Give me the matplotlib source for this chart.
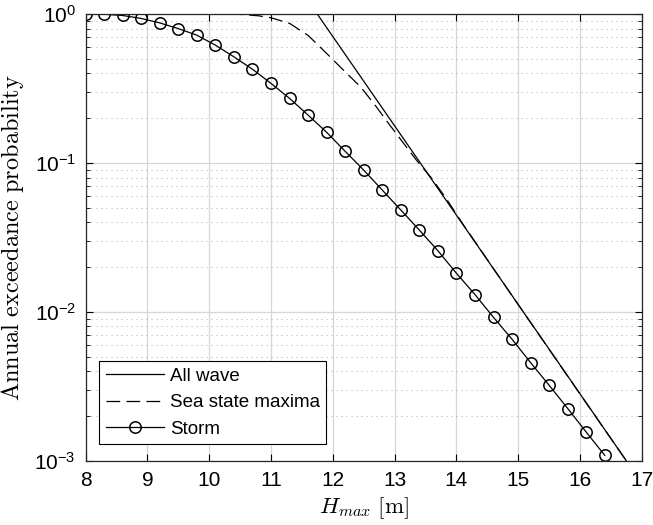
import numpy as np
import matplotlib
matplotlib.use('Agg')
import matplotlib.pyplot as plt
from matplotlib.ticker import LogLocator, NullFormatter

plt.rcParams['font.family'] = ['Liberation Sans', 'DejaVu Sans']
plt.rcParams['mathtext.fontset'] = 'custom'
plt.rcParams['mathtext.rm'] = 'Liberation Sans'
plt.rcParams['mathtext.it'] = 'Liberation Sans:italic'
plt.rcParams['mathtext.bf'] = 'Liberation Sans:bold'

# all-wave distribution (straight in log space)
all_wave_h = [11.75, 16.75]
all_wave_p = [1.0, 1e-3]

# sea state maxima, joins the all-wave line near 14 m
sea_h = [10.0, 10.5, 10.8, 11.0, 11.3, 11.6, 11.9, 12.2, 12.45, 12.7, 12.9,
         13.15, 13.35, 13.6, 13.85, 14.1, 15.0, 16.0, 16.75]
sea_p = [1.0, 0.997, 0.975, 0.946, 0.868, 0.72, 0.545, 0.41, 0.325, 0.24, 0.185,
         0.135, 0.105, 0.079, 0.0565, 0.0392, 0.0112, 0.00281, 1e-3]

# storm based estimate
storm_h = [8.0, 8.3, 8.6, 8.9, 9.2, 9.5, 9.8, 10.1, 10.4, 10.7, 11.0, 11.3, 11.6,
           11.9, 12.2, 12.5, 12.8, 13.1, 13.4, 13.7, 14.0, 14.3, 14.6, 14.9,
           15.2, 15.5, 15.8, 16.1, 16.4]
storm_p = [1.0, 0.999, 0.98, 0.936, 0.874, 0.80, 0.723, 0.62, 0.517, 0.427, 0.343,
           0.272, 0.21, 0.161, 0.12, 0.0897, 0.0659, 0.0484, 0.0355, 0.0258,
           0.0182, 0.0131, 0.0092, 0.00656, 0.00457, 0.00322, 0.00225,
           0.00156, 0.00109]

y_ticks = [1e-3, 1e-2, 1e-1, 1.0]
y_tick_labels = [r'$10^{-3}$', r'$10^{-2}$', r'$10^{-1}$', r'$10^{0}$']
x_ticks = [8, 9, 10, 11, 12, 13, 14, 15, 16, 17]

fig = plt.figure(figsize=(6.53, 5.25), dpi=100)
ax = fig.add_axes([0.131, 0.122, 0.852, 0.851])

ax.semilogy(all_wave_h, all_wave_p, '-', color='k', lw=0.9, label='All wave')
ax.semilogy(sea_h, sea_p, '--', color='k', lw=0.9, dashes=(11, 5),
            label='Sea state maxima')
ax.semilogy(storm_h, storm_p, '-o', color='k', lw=0.9, ms=8.2,
            mfc='none', mew=1.1, label='Storm')

ax.set_xlim(8, 17)
ax.set_ylim(1e-3, 1)
ax.set_xticks(x_ticks)
ax.set_yticks(y_ticks)
ax.set_yticklabels(y_tick_labels)
ax.yaxis.set_minor_locator(LogLocator(base=10, subs=np.arange(2, 10)))
ax.yaxis.set_minor_formatter(NullFormatter())

ax.grid(True, which='major', color='#d6d6d6', lw=0.9, ls='-')
ax.grid(True, which='minor', axis='y', color='#b8b8b8', lw=0.8, ls=(0, (1, 3.5)))
ax.set_axisbelow(True)

ax.tick_params(which='both', direction='in', top=True, right=True,
               labelsize=15, pad=7)
ax.tick_params(which='major', length=5, width=0.8)
ax.tick_params(which='minor', length=3, width=0.6)
for s in ax.spines.values():
    s.set_linewidth(0.9)
    s.set_color('#262626')

ax.set_xlabel(r'$H_{max}\ [\mathrm{m}]$', fontsize=16.5, math_fontfamily='cm',
              labelpad=4)
ax.set_ylabel(r'$\mathrm{Annual\ exceedance\ probability}$', fontsize=17.5,
              math_fontfamily='cm', labelpad=6)

leg = ax.legend(loc='lower left', bbox_to_anchor=(0.025, 0.037), fontsize=13.5,
                fancybox=False, edgecolor='k', framealpha=1, handlelength=3.1,
                borderaxespad=0, labelspacing=0.5, handletextpad=0.3,
                borderpad=0.35)
leg.get_frame().set_linewidth(0.8)

fig.savefig('out.png', dpi=100)
